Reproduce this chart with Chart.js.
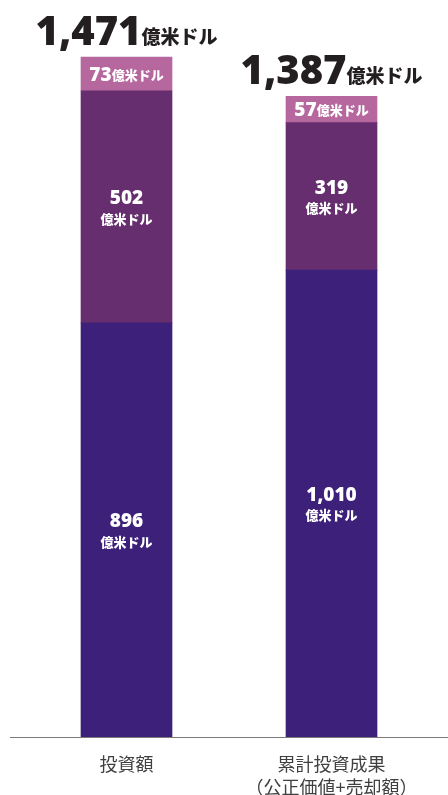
<!DOCTYPE html>
<html>
<head>
<meta charset="utf-8">
<script src="https://cdn.jsdelivr.net/npm/chart.js@4"></script>
<style>
  html, body { margin: 0; padding: 0; background: #fff; }
  #wrap { width: 448px; height: 795px; }
</style>
</head>
<body>
<div id="wrap"><canvas id="myChart" width="448" height="795"></canvas></div>
<script>
// categories (x axis), one label may have two lines
var categories = [['投資額'], ['累計投資成果', '（公正価値+売却額）']];
// series values (億米ドル)
var baseValues = [896, 1010];
var midValues = [502, 319];
var topValues = [73, 57];
// totals printed above each bar
var totals = [1471, 1387];
var unit = '億米ドル';

var JP = '"Noto Sans CJK JP", sans-serif';

// draws the value labels, totals, x labels and the baseline
var labelsPlugin = {
    id: 'labels',
    afterDatasetsDraw: function(chart) {
        var ctx = chart.ctx;
        var area = chart.chartArea;
        var xScale = chart.scales.x;
        ctx.save();

        // baseline
        ctx.strokeStyle = '#7a7a7a';
        ctx.lineWidth = 1;
        ctx.beginPath();
        ctx.moveTo(10, area.bottom + 0.5);
        ctx.lineTo(448, area.bottom + 0.5);
        ctx.stroke();

        chart.data.datasets.forEach(function(ds, di) {
            var meta = chart.getDatasetMeta(di);
            meta.data.forEach(function(bar, i) {
                var v = ds.data[i];
                var cx = bar.x;
                var cy = (bar.y + bar.base) / 2;
                ctx.fillStyle = '#ffffff';
                if (di === 2) {
                    // inline label: number + small unit
                    ctx.textBaseline = 'alphabetic';
                    var numFont = '800 19px "Open Sans", ' + JP;
                    var unitFont = '900 13px ' + JP;
                    ctx.font = numFont;
                    var w1 = ctx.measureText(String(v)).width;
                    ctx.font = unitFont;
                    var w2 = ctx.measureText(unit).width;
                    var x0 = cx - (w1 + w2) / 2;
                    ctx.textAlign = 'left';
                    ctx.font = numFont;
                    ctx.fillText(String(v), x0, cy + 7);
                    ctx.font = unitFont;
                    ctx.fillText(unit, x0 + w1, cy + 6);
                } else {
                    ctx.textAlign = 'center';
                    ctx.textBaseline = 'middle';
                    ctx.font = '800 19px "Open Sans", ' + JP;
                    ctx.fillText(v.toLocaleString('en-US'), cx, cy - 8);
                    ctx.font = '900 13px ' + JP;
                    ctx.fillText(unit, cx, cy + 12);
                }
            });
        });

        // totals above the stacks
        var topMeta = chart.getDatasetMeta(2);
        topMeta.data.forEach(function(bar, i) {
            var numTxt = totals[i].toLocaleString('en-US');
            var numFont = '800 40px "Open Sans", ' + JP;
            var unitFont = '900 19px ' + JP;
            ctx.font = numFont;
            var w1 = ctx.measureText(numTxt).width;
            ctx.font = unitFont;
            var w2 = ctx.measureText(unit).width;
            var x0 = bar.x - (w1 + w2) / 2;
            var yb = bar.y - 12;
            ctx.fillStyle = '#231f20';
            ctx.textAlign = 'left';
            ctx.textBaseline = 'alphabetic';
            ctx.font = numFont;
            ctx.fillText(numTxt, x0, yb);
            ctx.font = unitFont;
            ctx.fillText(unit, x0 + w1, yb - 1);
        });

        // x axis labels
        ctx.fillStyle = '#404040';
        ctx.textAlign = 'center';
        ctx.textBaseline = 'middle';
        ctx.font = '18px ' + JP;
        chart.data.labels.forEach(function(lines, i) {
            var x = xScale.getPixelForValue(i);
            lines.forEach(function(line, li) {
                ctx.fillText(line, x, area.bottom + 27 + li * 23);
            });
        });
        ctx.restore();
    }
};

var ctx = document.getElementById('myChart').getContext('2d');
var chart = new Chart(ctx, {
    type: 'bar',
    data: {
        labels: categories,
        datasets: [{
            label: 'base',
            backgroundColor: '#3c207a',
            data: baseValues
        }, {
            label: 'mid',
            backgroundColor: '#662e6e',
            data: midValues
        }, {
            label: 'top',
            backgroundColor: '#b5679e',
            data: topValues
        }]
    },
    options: {
        responsive: false,
        animation: false,
        barThickness: 91,
        layout: {
            padding: { left: 24, right: 14, top: 2, bottom: 58 }
        },
        plugins: {
            legend: { display: false },
            tooltip: { enabled: false }
        },
        scales: {
            x: {
                stacked: true,
                display: false
            },
            y: {
                stacked: true,
                display: false,
                min: 0,
                max: 1590
            }
        }
    },
    plugins: [labelsPlugin]
});
</script>
</body>
</html>
